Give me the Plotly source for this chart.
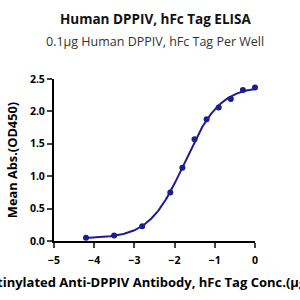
import numpy as np
import plotly.graph_objects as go

log_conc = [-4.204, -3.505, -2.806, -2.107, -1.806, -1.505, -1.204, -0.903, -0.602, -0.301, 0.0]
od450 = [0.05, 0.086, 0.227, 0.75, 1.13, 1.57, 1.88, 2.06, 2.19, 2.33, 2.37]
x_ticks = [-5, -4, -3, -2, -1, 0]
y_ticks = [0.0, 0.5, 1.0, 1.5, 2.0, 2.5]

# 4PL fit to the data (Gauss-Newton)
xd = np.array(log_conc); yd = np.array(od450)
p = np.array([0.05, 2.45, -1.75, 1.2])
def f(p, x):
    b, t, c, h = p
    return b + (t - b) / (1 + 10 ** ((c - x) * h))
for _ in range(200):
    r = yd - f(p, xd)
    J = np.zeros((len(xd), 4))
    for i in range(4):
        dp = np.zeros(4); dp[i] = 1e-6
        J[:, i] = (f(p + dp, xd) - f(p, xd)) / 1e-6
    step, *_ = np.linalg.lstsq(J, r, rcond=None)
    p = p + 0.5 * step
xc = np.linspace(xd.min(), xd.max(), 200)
yc = f(p, xc)

color = "#1c1c94"
fig = go.Figure()
fig.add_trace(go.Scatter(x=xc, y=yc, mode="lines", line=dict(color=color, width=2),
                         hoverinfo="skip", cliponaxis=False))
fig.add_trace(go.Scatter(x=log_conc, y=od450, mode="markers",
                         marker=dict(color=color, size=6), cliponaxis=False))

L, R, T, B = 43, 45, 79, 56
ph = 300 - T - B
pw = 300 - L - R
def py(pix):
    return (300 - B - pix) / ph
def px(pix):
    return (pix - L) / pw

font = "Open Sans"
fig.update_layout(
    width=300, height=300, showlegend=False,
    margin=dict(l=L, r=R, t=T, b=B),
    paper_bgcolor="white", plot_bgcolor="white",
    font=dict(family=font, color="black"),
    annotations=[
        dict(text="<b>Human DPPIV, hFc Tag ELISA</b>", x=px(150), y=py(18), xref="paper", yref="paper",
             showarrow=False, font=dict(size=13.5, color="#111"), xanchor="center", yanchor="middle"),
        dict(text="0.1μg Human DPPIV, hFc Tag Per Well", x=px(150), y=py(41), xref="paper", yref="paper",
             showarrow=False, font=dict(size=12.5, color="#333"), xanchor="center", yanchor="middle"),
    ],
)

fig.update_xaxes(range=[-5, 0], tickvals=x_ticks, ticks="outside", ticklen=5, tickwidth=2,
                 showline=True, linecolor="black", linewidth=2, showgrid=False, zeroline=False,
                 tickfont=dict(size=10.5, weight="bold"), ticklabelstandoff=3,
                 title=dict(text="<b>Biotinylated Anti-DPPIV Antibody, hFc Tag Conc.(μg/ml)</b>",
                            font=dict(size=13), standoff=12))
fig.update_yaxes(range=[0, 2.5], tickvals=y_ticks, tickformat=".1f", ticks="outside", ticklen=5, tickwidth=2,
                 showline=True, linecolor="black", linewidth=2, showgrid=False, zeroline=False,
                 tickfont=dict(size=10.5, weight="bold"),
                 title=dict(text="<b>Mean Abs.(OD450)</b>", font=dict(size=12.8), standoff=9))
fig.write_html("out.html")
